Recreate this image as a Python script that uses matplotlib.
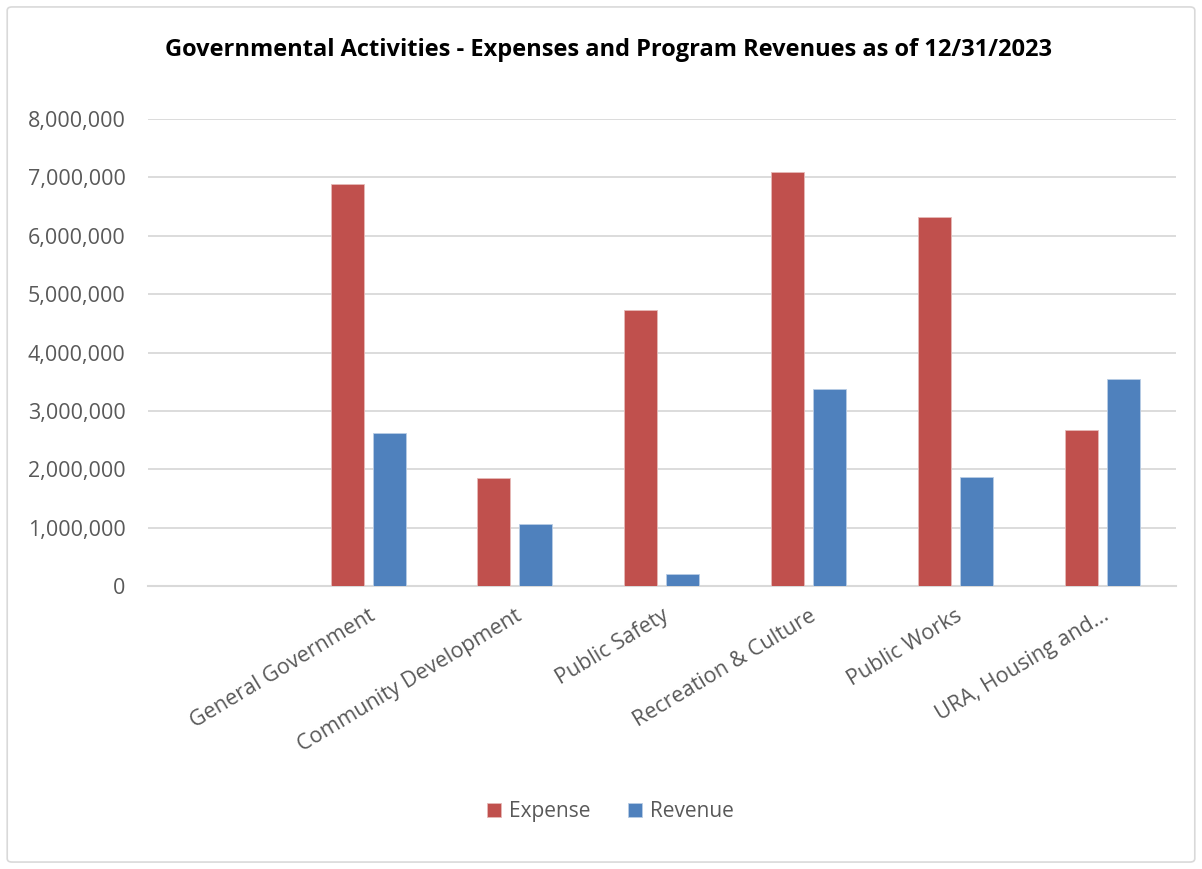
import numpy as np
import matplotlib
matplotlib.use('Agg')
import matplotlib.pyplot as plt
from matplotlib.patches import FancyBboxPatch
from matplotlib.ticker import FuncFormatter

plt.rcParams['font.family'] = 'Open Sans'

# data (first category is blank in the source sheet)
categories = ['', 'General Government', 'Community Development', 'Public Safety',
              'Recreation & Culture', 'Public Works', 'URA, Housing and...']
expense = [np.nan, 6880000, 1850000, 4730000, 7090000, 6320000, 2670000]
revenue = [np.nan, 2620000, 1060000, 205000, 3375000, 1870000, 3545000]

c_exp = '#C0504D'
c_rev = '#4F81BD'
grey = '#595959'

fig = plt.figure(figsize=(12.02, 8.69), dpi=100)
ax = fig.add_axes([0.123, 0.3257, 0.855, 0.5373])

# outer chart border
fig.patches.append(FancyBboxPatch((0.006, 0.008), 0.988, 0.984,
                                  boxstyle='round,pad=0,rounding_size=0.004',
                                  transform=fig.transFigure, fill=False,
                                  edgecolor='#D9D9D9', linewidth=1.2))

x = np.arange(len(categories))
w = 0.224
gap = 0.062
b1 = ax.bar(x - (w + gap) / 2, expense, width=w, color=c_exp,
            edgecolor='#E6B9B8', linewidth=0.6, zorder=3)
b2 = ax.bar(x + (w + gap) / 2, revenue, width=w, color=c_rev,
            edgecolor='#B9CDE5', linewidth=0.6, zorder=3)

ax.set_xlim(-0.5, len(categories) - 0.5)
ax.set_ylim(0, 8000000)
ax.set_yticks(np.arange(0, 8000001, 1000000))
ax.yaxis.set_major_formatter(FuncFormatter(lambda v, p: f'{int(v):,}'))
ax.grid(axis='y', color='#D9D9D9', linewidth=1.3, zorder=0)
ax.set_axisbelow(True)
for s in ['top', 'right', 'left']:
    ax.spines[s].set_visible(False)
ax.spines['bottom'].set_color('#D9D9D9')
ax.spines['bottom'].set_linewidth(1.5)
ax.tick_params(axis='y', length=0, labelsize=15.5, labelcolor=grey, pad=16)
ax.tick_params(axis='x', length=0, labelsize=15.5, labelcolor=grey, pad=14)

ax.set_xticks(x)
ax.set_xticklabels(categories, rotation=31, ha='right', rotation_mode='anchor')

fig.text(0.506, 0.943, 'Governmental Activities - Expenses and Program Revenues as of 12/31/2023',
         ha='center', va='center', fontsize=17, fontweight='bold', color='black')

fig.legend([b1, b2], ['Expense', 'Revenue'], loc='center', bbox_to_anchor=(0.508, 0.066),
           ncol=2, frameon=False, fontsize=15, labelcolor=grey,
           handlelength=0.65, handleheight=0.65, handletextpad=0.4, columnspacing=1.8)

fig.savefig('out.png', dpi=100)
